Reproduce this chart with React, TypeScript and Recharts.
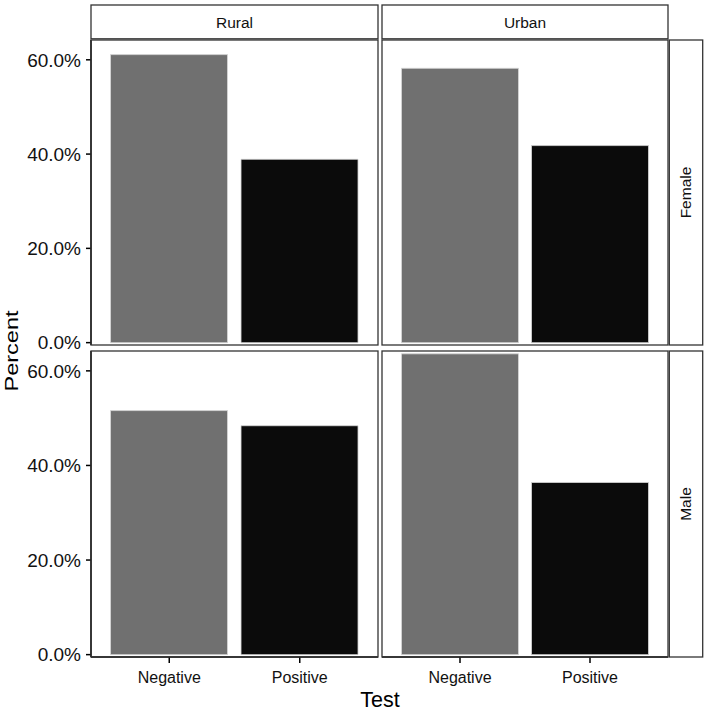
import React from "react";
import { BarChart, Bar, XAxis, YAxis, Cell } from "recharts";

const tests = ["Negative", "Positive"];
const areas = ["Rural", "Urban"];
const sexes = ["Female", "Male"];
// percent of tests, by sex (rows) then area (columns)
const femaleRural = [61.1, 38.9];
const femaleUrban = [58.2, 41.8];
const maleRural = [51.6, 48.4];
const maleUrban = [63.6, 36.4];
const yTicks = [0, 20, 40, 60];

const FONT = "'Liberation Sans', Arial, Helvetica, sans-serif";
const barColors = ["#707070", "#0b0b0b"];

// panel geometry (plot area boxes)
const colX = [91, 382];
const colW = [287, 286];
const rowY = [40, 351];
const rowH = [305, 306];
const Y_AXIS_W = 91;
const X_AXIS_H = 55;
const PAD = 14; // room so edge tick labels are not clipped

interface PanelProps {
  values: number[];
  row: number;
  col: number;
}

function Panel({ values, row, col }: PanelProps) {
  const data = tests.map((t, i) => ({ test: t, pct: values[i] }));
  const showY = col === 0;
  const showX = row === 1;
  const left = showY ? colX[col] - Y_AXIS_W : colX[col];
  const width = colW[col] + (showY ? Y_AXIS_W : 0);
  const bottom = showX ? 0 : PAD;
  const height = PAD + rowH[row] + (showX ? X_AXIS_H : 0) + bottom;
  return (
    <div style={{ position: "absolute", left, top: rowY[row] - PAD }}>
      <BarChart
        width={width}
        height={height}
        data={data}
        margin={{ top: PAD, right: 0, bottom, left: 0 }}
        barCategoryGap="5%"
      >
        <XAxis
          dataKey="test"
          hide={!showX}
          height={X_AXIS_H}
          padding={{ left: 13, right: 13 }}
          axisLine={{ stroke: "#000", strokeWidth: 1.5 }}
          tickLine={{ stroke: "#000", strokeWidth: 1.5 }}
          tickSize={6}
          tickMargin={9}
          tick={{ fill: "#111", fontSize: 16, fontFamily: FONT }}
        />
        <YAxis
          type="number"
          hide={!showY}
          width={Y_AXIS_W}
          domain={[-0.5, 64.2]}
          allowDataOverflow
          ticks={yTicks}
          interval={0}
          tickFormatter={(v: number) => `${v.toFixed(1)}%`}
          axisLine={{ stroke: "#000", strokeWidth: 1.5 }}
          tickLine={{ stroke: "#000", strokeWidth: 1.5 }}
          tickSize={5}
          tickMargin={5}
          tick={{ fill: "#111", fontSize: 19, fontFamily: FONT }}
        />
        <Bar
          dataKey="pct"
          isAnimationActive={false}
          stroke="#d8d8d8"
          strokeWidth={0.8}
        >
          {data.map((d, i) => (
            <Cell key={d.test} fill={barColors[i]} />
          ))}
        </Bar>
      </BarChart>
    </div>
  );
}

function Frame() {
  const stroke = "#333";
  return (
    <svg
      width={708}
      height={712}
      style={{ position: "absolute", left: 0, top: 0, pointerEvents: "none" }}
    >
      {rowY.map((y, r) =>
        colX.map((x, c) => (
          <rect
            key={`p${r}${c}`}
            x={x}
            y={y}
            width={colW[c]}
            height={rowH[r]}
            fill="none"
            stroke={stroke}
            strokeWidth={1.3}
          />
        ))
      )}
      {colX.map((x, c) => (
        <g key={`s${c}`}>
          <rect
            x={x}
            y={5}
            width={colW[c]}
            height={33.8}
            fill="#fff"
            stroke={stroke}
            strokeWidth={1.3}
          />
          <text
            x={x + colW[c] / 2}
            y={27.5}
            textAnchor="middle"
            fontSize={15.5}
            fontFamily={FONT}
            fill="#111"
          >
            {areas[c]}
          </text>
        </g>
      ))}
      {rowY.map((y, r) => (
        <g key={`r${r}`}>
          <rect
            x={669.3}
            y={y}
            width={33.4}
            height={rowH[r]}
            fill="#fff"
            stroke={stroke}
            strokeWidth={1.3}
          />
          <text
            x={691}
            y={y + rowH[r] / 2}
            textAnchor="middle"
            fontSize={15.5}
            fontFamily={FONT}
            fill="#111"
            transform={`rotate(-90 691 ${y + rowH[r] / 2})`}
          >
            {sexes[r]}
          </text>
        </g>
      ))}
      <text
        x={18}
        y={351}
        textAnchor="middle"
        fontSize={19}
        fontFamily={FONT}
        fill="#000"
        textLength={81}
        lengthAdjust="spacingAndGlyphs"
        transform="rotate(-90 18 351)"
      >
        Percent
      </text>
      <text
        x={380}
        y={706.5}
        textAnchor="middle"
        fontSize={21.5}
        fontFamily={FONT}
        fill="#000"
      >
        Test
      </text>
    </svg>
  );
}

export default function App() {
  return (
    <div
      style={{
        position: "absolute",
        left: 0,
        top: 0,
        width: 708,
        height: 712,
        background: "#fff",
      }}
    >
      <Panel values={femaleRural} row={0} col={0} />
      <Panel values={femaleUrban} row={0} col={1} />
      <Panel values={maleRural} row={1} col={0} />
      <Panel values={maleUrban} row={1} col={1} />
      <Frame />
    </div>
  );
}
